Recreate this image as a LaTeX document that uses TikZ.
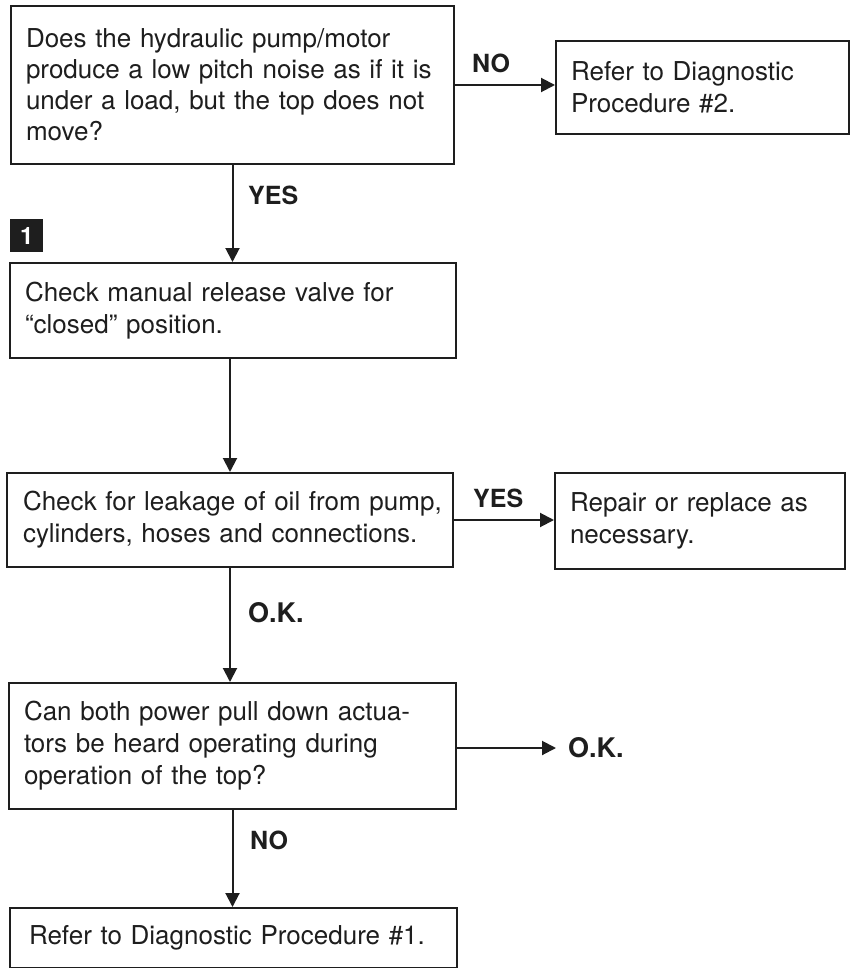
\documentclass[tikz,border=0pt]{standalone}
\usepackage{fontspec}
\setmainfont{TeX Gyre Heros}
\usetikzlibrary{arrows.meta}
\definecolor{ink}{HTML}{1E1E1E}
\begin{document}
\begin{tikzpicture}[x=1pt,y=-1pt,
  box/.style={draw=ink, line width=2pt, anchor=north west, inner xsep=15pt, inner ysep=0pt,
     align=left, text=ink, font=\fontsize{26}{32}\selectfont},
  lbl/.style={anchor=west, text=ink, inner sep=0pt, font=\fontsize{25}{28}\selectfont\bfseries},
  arr/.style={draw=ink, line width=2pt, -{Triangle[length=14pt,width=14pt]}}]
\useasboundingbox[fill=white] (0,0) rectangle (850,968);
\node[box, minimum width=443pt, minimum height=158pt, text width=413pt,
  font=\fontsize{26}{31}\selectfont] (b1) at (10,5)
  {Does the hydraulic pump/motor\\produce a low pitch noise as if it is\\under a load, but the top does not\\move?};
\node[box, minimum width=293pt, minimum height=93pt, text width=263pt] (b2) at (555,40)
  {Refer to Diagnostic\\Procedure \#2.};
\node[box, minimum width=446pt, minimum height=95pt, text width=416pt] (b3) at (9,262)
  {Check manual release valve for\\“closed” position.};
\node[box, minimum width=446pt, minimum height=94pt, text width=414pt, inner xsep=16pt] (b4) at (6,472)
  {\mbox{Check for leakage of oil from pump,}\\\mbox{cylinders, hoses and connections.}};
\node[box, minimum width=290pt, minimum height=96pt, text width=260pt] (b5) at (554,472)
  {Repair or replace as\\necessary.};
\node[box, minimum width=447pt, minimum height=126pt, text width=417pt] (b6) at (8,682)
  {Can both power pull down actua-\\tors be heard operating during\\operation of the top?};
\node[box, minimum width=447pt, minimum height=60pt, text width=409pt, inner xsep=19pt] (b7) at (9,907)
  {Refer to Diagnostic Procedure \#1.};
\node[fill=ink, minimum size=33pt, inner sep=0pt, anchor=north west, text=white,
  font=\fontsize{24}{26}\selectfont\bfseries] (badge) at (10,219) {1};
\node[lbl, font=\fontsize{27}{30}\selectfont\bfseries] (ok2) at (568,748) {O.K.};
\node[lbl] (lno1) at (472,63) {NO};
\node[lbl] (lyes1) at (248,195) {YES};
\node[lbl] (lyes2) at (473,498) {YES};
\node[lbl, font=\fontsize{27}{30}\selectfont\bfseries] (lok1) at (248,613) {O.K.};
\node[lbl] (lno2) at (250,840) {NO};
\draw[arr] (b1.south) -- (b1.south |- b3.north);
\draw[arr] (b4.north |- b3.south) -- (b4.north);
\draw[arr] (b4.south) -- (b4.south |- b6.north);
\draw[arr] (b6.south) -- (b6.south |- b7.north);
\draw[arr] (b1.east) -- (b1.east -| b2.west);
\draw[arr] (b4.east) -- (b4.east -| b5.west);
\draw[arr] (b6.east |- ok2.west) -- ([xshift=-12pt]ok2.west);
\end{tikzpicture}
\end{document}
